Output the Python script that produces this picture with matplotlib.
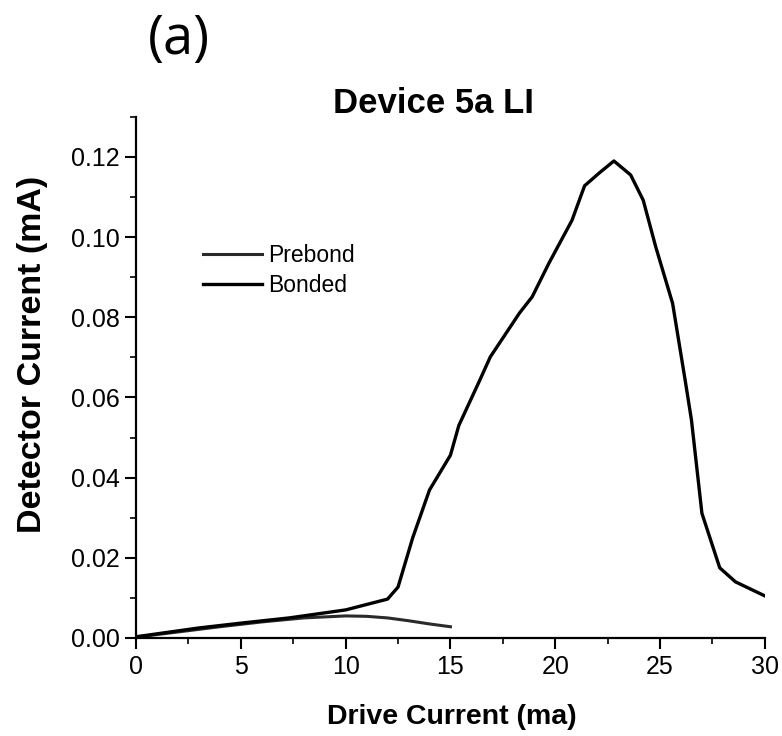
import matplotlib
matplotlib.use("Agg")
import matplotlib.pyplot as plt
from matplotlib.ticker import MultipleLocator

plt.rcParams['font.family'] = ['Liberation Sans', 'DejaVu Sans']

# Light-current curves
prebond_x = [0, 2, 4, 6, 8, 10, 11, 12, 13, 14, 15]
prebond_y = [0.0002, 0.0015, 0.0028, 0.0040, 0.0050, 0.0055, 0.0054, 0.0050, 0.0043, 0.0035, 0.0028]

bonded_x = [0, 3, 5, 7.3, 10, 12, 12.5, 13.2, 14.0, 15.0, 15.4, 16.4, 16.9, 18.3,
            18.9, 19.7, 20.8, 21.4, 22.1, 22.8, 23.6, 24.2, 24.8, 25.6, 26.2,
            26.5, 27.0, 27.85, 28.6, 30.0]
bonded_y = [0.0003, 0.0025, 0.0037, 0.0050, 0.0070, 0.0097, 0.0127, 0.0250, 0.0369,
            0.0456, 0.0530, 0.0643, 0.0701, 0.0811, 0.0851, 0.0935, 0.1042, 0.1128,
            0.1160, 0.1190, 0.1155, 0.1092, 0.0975, 0.0835, 0.0643, 0.0544, 0.0311,
            0.0175, 0.0140, 0.0105]

x_ticks = [0, 5, 10, 15, 20, 25, 30]
y_ticks = [0.00, 0.02, 0.04, 0.06, 0.08, 0.10, 0.12]

fig = plt.figure(figsize=(7.82, 7.36), dpi=100)
ax = fig.add_axes([0.174, 0.1332, 0.804, 0.708])

ax.plot(prebond_x, prebond_y, color='#2a2a2a', lw=2.2, label='Prebond')
ax.plot(bonded_x, bonded_y, color='black', lw=2.4, label='Bonded')

ax.set_xlim(0, 30)
ax.set_ylim(0, 0.13)
ax.set_xticks(x_ticks)
ax.set_yticks(y_ticks)
ax.set_xticklabels([str(v) for v in x_ticks])
ax.set_yticklabels([f"{v:.2f}" for v in y_ticks])
ax.xaxis.set_minor_locator(MultipleLocator(2.5))
ax.yaxis.set_minor_locator(MultipleLocator(0.01))

for s in ['top', 'right']:
    ax.spines[s].set_visible(False)
for s in ['left', 'bottom']:
    ax.spines[s].set_linewidth(1.6)

ax.tick_params(which='major', direction='out', length=8, width=1.5, labelsize=18, pad=4)
ax.tick_params(which='minor', direction='out', length=4, width=1.2)

ax.set_xlabel('Drive Current (ma)', fontsize=20.5, fontweight='bold')
ax.xaxis.set_label_coords(0.502, -0.126)
ax.set_ylabel('Detector Current (mA)', fontsize=24.5, fontweight='bold')
ax.yaxis.set_label_coords(-0.140, 0.545)

fig.text(0.554, 1 - 113 / 736, 'Device 5a LI', fontsize=25, fontweight='bold',
         ha='center', va='baseline')

ax.legend(loc='upper left', bbox_to_anchor=(0.1065, 0.7565), frameon=False,
          borderpad=0, borderaxespad=0, fontsize=16.5, handlelength=2.57,
          handletextpad=0.26, labelspacing=0.3)

fig.text(0.189, 0.947, '(a)', fontsize=39, family=['Open Sans', 'DejaVu Sans'],
         ha='left', va='center')

fig.savefig('out.png', dpi=100)
